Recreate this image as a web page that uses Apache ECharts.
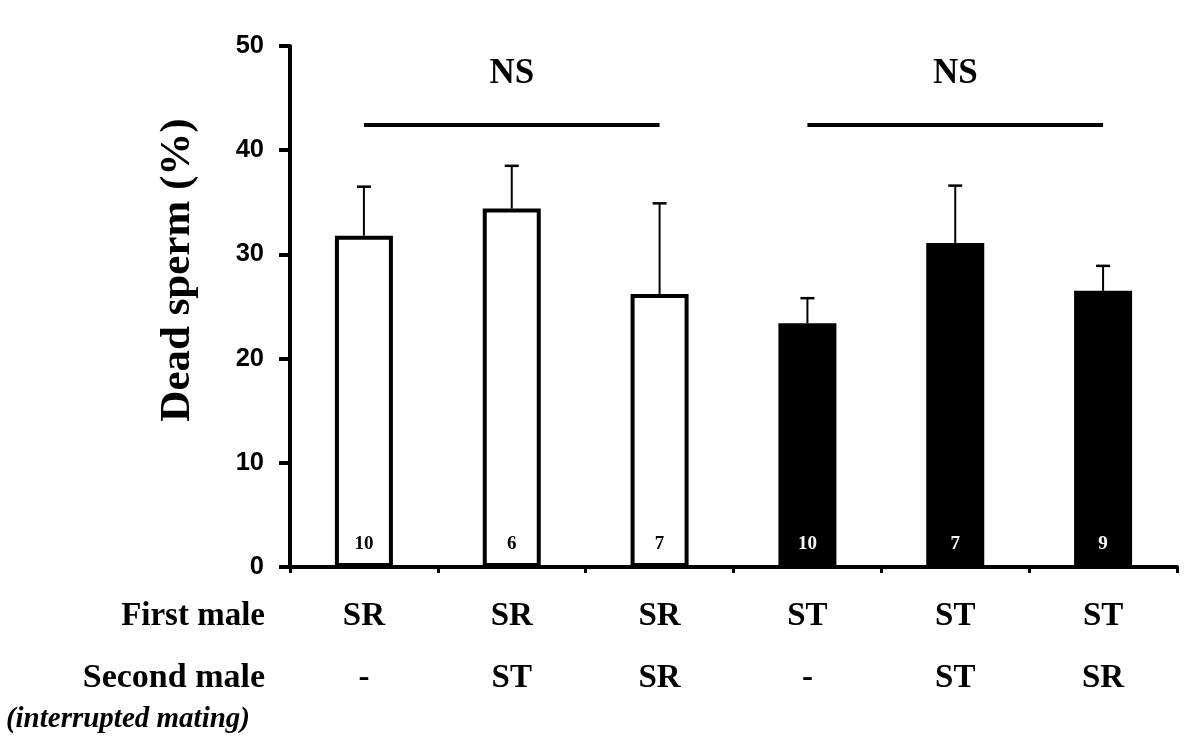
<!DOCTYPE html>
<html><head><meta charset="utf-8">
<script src="https://cdn.jsdelivr.net/npm/echarts@6/dist/echarts.min.js"></script>
<style>html,body{margin:0;padding:0;background:#fff}#c{width:1200px;height:755px}</style>
</head><body><div id="c"></div>
<script>
// ---- data ----
const firstMale = ['SR', 'SR', 'SR', 'ST', 'ST', 'ST'];
const secondMale = ['-', 'ST', 'SR', '-', 'ST', 'SR'];
const meanDead = [31.8, 34.4, 26.2, 23.4, 31.1, 26.5];
const semDead = [4.7, 4.1, 8.7, 2.4, 5.5, 2.4];
const sampleN = [10, 6, 7, 10, 7, 9];
const filledBar = [false, false, false, true, true, true];
const yMin = 0, yMax = 50, yStep = 10;
const nsBrackets = [[0, 2], [3, 5]];
const nsLevel = 42.4;
const nsText = 'NS';
const rowLabels = ['First male', 'Second male', '(interrupted mating)'];
const yTitle = 'Dead sperm (%)';

const SERIF = '"Liberation Serif", "Times New Roman", serif';
const SANS = '"Liberation Sans", Arial, sans-serif';

const categories = firstMale.map((f, i) => f + '\n' + secondMale[i]);

const chart = echarts.init(document.getElementById('c'), null, {renderer: 'canvas'});
chart.setOption({
  animation: false,
  backgroundColor: '#fff',
  grid: {left: 290, right: 23, top: 46, bottom: 188, containLabel: false},
  xAxis: {
    type: 'category',
    data: categories,
    axisLine: {lineStyle: {color: '#000', width: 4}},
    axisTick: {show: true, length: 6, lineStyle: {color: '#000', width: 3}},
    axisLabel: {
      color: '#000', fontFamily: SERIF, fontWeight: 'bold', fontSize: 33,
      lineHeight: 62, margin: 18, interval: 0
    },
    splitLine: {show: false}
  },
  yAxis: {
    type: 'value', min: yMin, max: yMax, interval: yStep,
    axisLine: {show: true, lineStyle: {color: '#000', width: 4}},
    axisTick: {show: true, length: 11, lineStyle: {color: '#000', width: 4}},
    axisLabel: {color: '#000', fontFamily: SANS, fontWeight: 'bold', fontSize: 25.5, margin: 26},
    splitLine: {show: false}
  },
  series: [
    {
      type: 'bar',
      barWidth: 58,
      data: meanDead.map((v, i) => ({
        value: v,
        itemStyle: filledBar[i]
          ? {color: '#000', borderColor: '#000', borderWidth: 4}
          : {color: '#fff', borderColor: '#000', borderWidth: 4},
        label: {color: filledBar[i] ? '#fff' : '#000'}
      })),
      label: {
        show: true, position: 'insideBottom', distance: 13,
        fontFamily: SERIF, fontWeight: 'bold', fontSize: 19,
        formatter: p => String(sampleN[p.dataIndex])
      },
      markLine: {
        silent: true,
        symbol: ['none', 'none'],
        lineStyle: {color: '#000', width: 4, type: 'solid'},
        label: {
          show: true, position: 'insideMiddleTop', distance: 34,
          formatter: nsText, color: '#000',
          fontFamily: SERIF, fontWeight: 'bold', fontSize: 35
        },
        data: nsBrackets.map(([a, b]) => [{coord: [a, nsLevel]}, {coord: [b, nsLevel]}])
      },
      z: 2
    },
    {
      type: 'custom',
      z: 3,
      data: meanDead.map((m, i) => [i, m, semDead[i]]),
      encode: {x: 0, y: 1},
      renderItem: function (params, api) {
        const i = api.value(0), m = api.value(1), s = api.value(2);
        const base = api.coord([i, m]);
        const top = api.coord([i, m + s]);
        const half = 7;
        return {
          type: 'group',
          children: [
            {type: 'line', shape: {x1: base[0], y1: base[1], x2: top[0], y2: top[1]},
              style: {stroke: '#000', lineWidth: 2}},
            {type: 'line', shape: {x1: top[0] - half, y1: top[1], x2: top[0] + half, y2: top[1]},
              style: {stroke: '#000', lineWidth: 2.5}}
          ]
        };
      }
    }
  ],
  graphic: [
    {type: 'text', x: 265, y: 616, style: {text: rowLabels[0], align: 'right', verticalAlign: 'middle',
      fontFamily: SERIF, fontWeight: 'bold', fontSize: 33, fill: '#000'}},
    {type: 'text', x: 265, y: 678, style: {text: rowLabels[1], align: 'right', verticalAlign: 'middle',
      fontFamily: SERIF, fontWeight: 'bold', fontSize: 34, fill: '#000'}},
    {type: 'text', x: 250, y: 720, style: {text: rowLabels[2], align: 'right', verticalAlign: 'middle',
      fontFamily: SERIF, fontWeight: 'bold', fontStyle: 'italic', fontSize: 29, fill: '#000'}},
    {type: 'text', x: 178, y: 270, rotation: Math.PI / 2, style: {text: yTitle, align: 'center', verticalAlign: 'middle',
      fontFamily: SERIF, fontWeight: 'bold', fontSize: 43, fill: '#000'}}
  ]
});
</script>
</body></html>
